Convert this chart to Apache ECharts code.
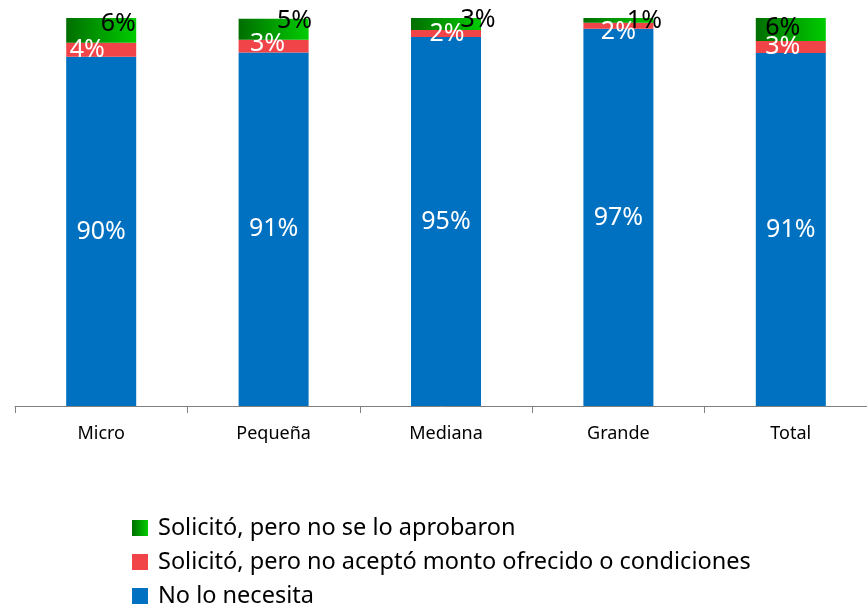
<!DOCTYPE html>
<html>
<head>
<meta charset="utf-8">
<script src="https://cdn.jsdelivr.net/npm/echarts@6/dist/echarts.min.js"></script>
<style>
html,body{margin:0;padding:0;background:#fff;}
#chart{width:867px;height:607px;}
</style>
</head>
<body>
<div id="chart"></div>
<script>
const categories = ['Micro', 'Pequeña', 'Mediana', 'Grande', 'Total'];
const seriesNames = ['Solicitó, pero no se lo aprobaron', 'Solicitó, pero no aceptó monto ofrecido o condiciones', 'No lo necesita'];
const noLoNecesita = [90.0, 91.1, 95.1, 97.2, 91.0];
const noAcepto = [3.6, 3.3, 1.8, 1.6, 3.1];
const noAprobaron = [6.4, 5.4, 3.1, 1.2, 5.9];

// label offsets (presentation only)
const greenOffsets = [[17, -7], [21, -8], [32, -4], [26, 1], [-8, -2]];
const redOffsets = [[-14, 0], [-6, -2], [1, 0], [0, 6], [-8, 0]];

const chart = echarts.init(document.getElementById('chart'), null, {renderer: 'canvas'});
const FONT = 'Noto Sans';
const fmt = p => Math.round(p.value) + '%';

const withOffsets = (vals, offs) => vals.map((v, i) => ({value: v, label: {offset: offs[i]}}));

chart.setOption({
  animation: false,
  textStyle: {fontFamily: FONT},
  grid: {left: 15, width: 862, top: 18, bottom: 201, containLabel: false, outerBoundsMode: 'none'},
  legend: {
    orient: 'vertical',
    left: 132,
    top: 516,
    height: 110,
    padding: 0,
    itemWidth: 16,
    itemHeight: 16,
    itemGap: 10,
    icon: 'rect',
    data: [seriesNames[0], seriesNames[1], seriesNames[2]],
    textStyle: {fontFamily: FONT, fontSize: 23.5, color: '#000', lineHeight: 24, padding: [0, 0, 0, 5]}
  },
  xAxis: {
    type: 'category',
    data: categories,
    axisLine: {show: true, lineStyle: {color: '#808080', width: 1}},
    axisTick: {show: true, length: 7, lineStyle: {color: '#808080'}, alignWithLabel: false},
    axisLabel: {fontFamily: FONT, fontSize: 18, color: '#000', margin: 19}
  },
  yAxis: {
    type: 'value', min: 0, max: 100,
    show: false,
    splitLine: {show: false}
  },
  series: [
    {
      name: seriesNames[2], type: 'bar', stack: 'total', barWidth: 70,
      data: noLoNecesita,
      itemStyle: {color: '#0070C0'},
      label: {show: true, position: 'inside', formatter: fmt, color: '#fff', fontSize: 25, fontFamily: FONT}
    },
    {
      name: seriesNames[1], type: 'bar', stack: 'total', barWidth: 70,
      data: withOffsets(noAcepto, redOffsets),
      itemStyle: {color: '#F04448'},
      label: {show: true, position: 'inside', formatter: fmt, color: '#fff', fontSize: 25, fontFamily: FONT}
    },
    {
      name: seriesNames[0], type: 'bar', stack: 'total', barWidth: 70,
      data: withOffsets(noAprobaron, greenOffsets),
      itemStyle: {color: new echarts.graphic.LinearGradient(0, 0, 1, 0, [
        {offset: 0, color: '#006E00'},
        {offset: 1, color: '#00CC00'}
      ])},
      label: {show: true, position: 'inside', formatter: fmt, color: '#000', fontSize: 25, fontFamily: FONT}
    }
  ]
});
</script>
</body>
</html>
